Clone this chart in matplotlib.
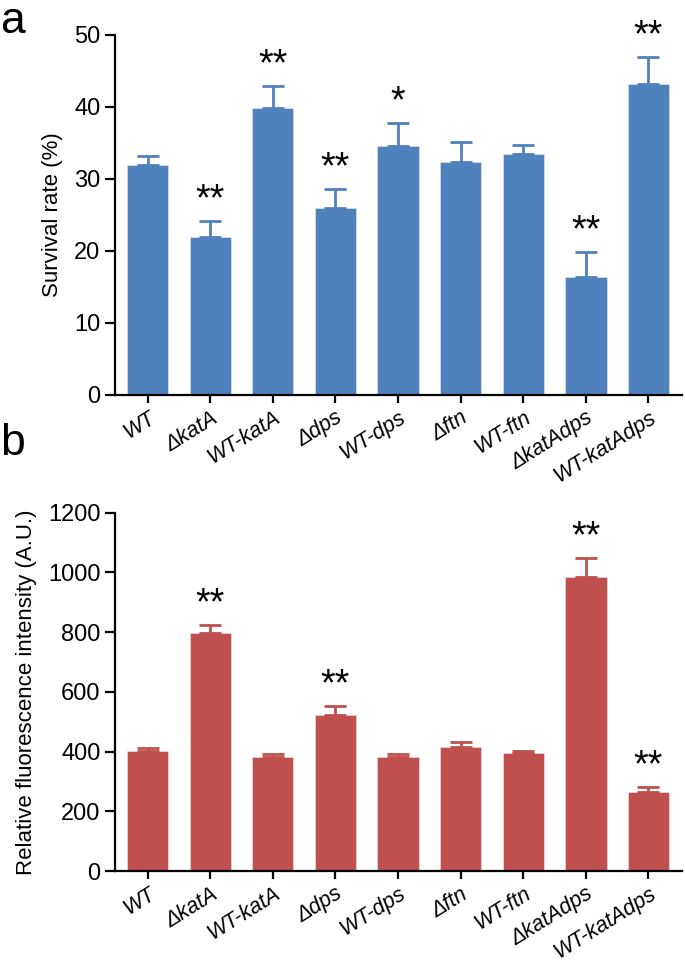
import numpy as np
import matplotlib.pyplot as plt

plt.rcParams['font.family'] = ['Liberation Sans', 'DejaVu Sans']

# strains (x tick labels)
strains = ['WT', 'ΔkatA', 'WT-katA', 'Δdps', 'WT-dps', 'Δftn', 'WT-ftn', 'ΔkatAdps', 'WT-katAdps']

# panel a: survival rate (%)
survival = [31.9, 22.0, 39.9, 25.9, 34.6, 32.4, 33.5, 16.4, 43.2]
survival_err = [1.3, 2.1, 3.0, 2.7, 3.2, 2.7, 1.2, 3.5, 3.8]
survival_sig = ['', '**', '**', '**', '*', '', '', '**', '**']

# panel b: relative fluorescence intensity (A.U.)
fluor = [401, 796, 381, 521, 383, 414, 396, 983, 266]
fluor_err = [11, 28, 10, 32, 9, 19, 5, 65, 15]
fluor_sig = ['', '**', '', '**', '', '', '', '**', '**']

blue = '#4F81BD'
red = '#C0504D'

fig = plt.figure(figsize=(6.85, 9.69), dpi=100)
ax1 = fig.add_axes([0.168, 0.5924, 0.828, 0.3715])
ax2 = fig.add_axes([0.168, 0.1010, 0.828, 0.3700])


def draw_panel(ax, vals, errs, sig, color, ymax, ystep, ylabel):
    x = np.arange(len(vals))
    ax.bar(x, vals, width=0.66, color=color, edgecolor='#e4e9f2', linewidth=0.4)
    ax.errorbar(x, vals, yerr=[np.zeros(len(errs)), errs], fmt='none',
                ecolor=color, elinewidth=2, capsize=8, capthick=2)
    for xi, v, e, s in zip(x, vals, errs, sig):
        if s:
            ax.annotate(s, xy=(xi, v + e), xytext=(0, 2), textcoords='offset points',
                        ha='center', va='bottom', fontsize=27)
    ax.set_xlim(-0.52, len(vals) - 0.46)
    ax.set_ylim(0, ymax)
    ax.set_yticks(np.arange(0, ymax + 1, ystep))
    ax.set_xticks(x)
    ax.set_xticklabels(strains, rotation=32, ha='right', rotation_mode='anchor',
                       fontstyle='italic', fontsize=15.5)
    ax.tick_params(axis='y', labelsize=17, length=7, width=1.6, direction='out')
    ax.tick_params(axis='x', length=6, width=1.6, direction='out', pad=3)
    ax.set_ylabel(ylabel, fontsize=16, labelpad=8)
    for side in ['top', 'right']:
        ax.spines[side].set_visible(False)
    for side in ['left', 'bottom']:
        ax.spines[side].set_linewidth(1.6)


draw_panel(ax1, survival, survival_err, survival_sig, blue, 50, 10, 'Survival rate (%)')
draw_panel(ax2, fluor, fluor_err, fluor_sig, red, 1200, 200, 'Relative fluorescence intensity (A.U.)')

fig.text(0.0, 0.999, 'a', fontsize=32, va='top', ha='left')
fig.text(0.0, 0.563, 'b', fontsize=32, va='top', ha='left')

fig.savefig('out.png', dpi=100)
